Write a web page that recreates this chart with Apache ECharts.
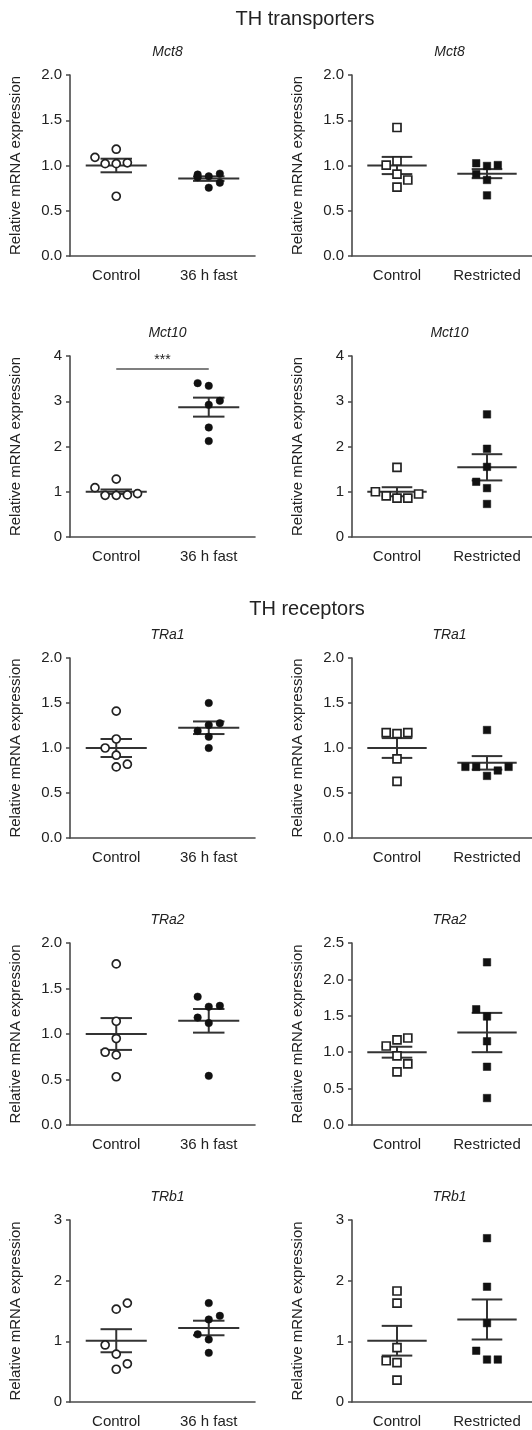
<!DOCTYPE html>
<html>
<head>
<meta charset="utf-8">
<script src="https://cdn.jsdelivr.net/npm/echarts@6/dist/echarts.min.js"></script>
<style>
html,body{margin:0;padding:0;background:#fff;}
#chart{width:532px;height:1430px;}
</style>
</head>
<body>
<div id="chart"></div>
<script>
// ---------- data ----------
const sectionTitles = ['TH transporters', 'TH receptors'];
const geneNames = ['Mct8','Mct8','Mct10','Mct10','TRa1','TRa1','TRa2','TRa2','TRb1','TRb1'];
const groupLabelsFast = ['Control', '36 h fast'];
const groupLabelsRestricted = ['Control', 'Restricted'];
const yMax  = [2, 2, 4, 4, 2, 2, 2, 2.5, 3, 3];
const yStep = [0.5, 0.5, 1, 1, 0.5, 0.5, 0.5, 0.5, 1, 1];
const yDecimals = [1, 1, 0, 0, 1, 1, 1, 1, 0, 0];

const controlValues = [
  [1.09, 1.18, 1.02, 1.02, 1.03, 0.66],
  [1.42, 1.005, 1.05, 0.905, 0.84, 0.76],
  [1.09, 1.28, 0.92, 0.92, 0.93, 0.96],
  [1.00, 0.91, 0.86, 0.86, 0.95, 1.54],
  [1.41, 1.10, 1.00, 0.92, 0.79, 0.82],
  [1.17, 1.16, 1.17, 0.88, 0.63],
  [1.77, 1.14, 0.95, 0.80, 0.77, 0.53],
  [1.085, 1.17, 1.195, 0.95, 0.84, 0.73],
  [1.53, 1.63, 0.94, 0.79, 0.54, 0.63],
  [1.83, 1.63, 0.895, 0.68, 0.65, 0.36]
];
const controlJitter = [
  [-0.23, 0, -0.12, 0, 0.12, 0],
  [0, -0.12, 0, 0, 0.12, 0],
  [-0.23, 0, -0.12, 0, 0.12, 0.23],
  [-0.24, -0.12, 0, 0.12, 0.24, 0],
  [0, 0, -0.12, 0, 0, 0.12],
  [-0.12, 0, 0.12, 0, 0],
  [0, 0, 0, -0.12, 0, 0],
  [-0.12, 0, 0.12, 0, 0.12, 0],
  [0, 0.12, -0.12, 0, 0, 0.12],
  [0, 0, 0, -0.12, 0, 0]
];
const treatedValues = [
  [0.90, 0.88, 0.91, 0.87, 0.81, 0.755],
  [1.025, 0.995, 1.005, 0.905, 0.84, 0.67],
  [3.40, 3.34, 3.01, 2.92, 2.42, 2.12],
  [2.71, 1.95, 1.55, 1.22, 1.08, 0.73],
  [1.50, 1.19, 1.255, 1.275, 1.125, 1.00],
  [1.20, 0.79, 0.79, 0.69, 0.75, 0.79],
  [1.41, 1.30, 1.31, 1.18, 1.12, 0.54],
  [2.235, 1.59, 1.49, 1.15, 0.80, 0.37],
  [1.63, 1.36, 1.42, 1.115, 1.03, 0.81],
  [2.70, 1.90, 1.30, 0.845, 0.70, 0.70]
];
const treatedJitter = [
  [-0.12, 0, 0.12, -0.12, 0.12, 0],
  [-0.12, 0, 0.12, -0.12, 0, 0],
  [-0.12, 0, 0.12, 0, 0, 0],
  [0, 0, 0, -0.12, 0, 0],
  [0, -0.12, 0, 0.12, 0, 0],
  [0, -0.24, -0.12, 0, 0.12, 0.24],
  [-0.12, 0, 0.12, -0.12, 0, 0],
  [0, -0.12, 0, 0, 0, 0],
  [0, 0, 0.12, -0.12, 0, 0],
  [0, 0, 0, -0.12, 0, 0.12]
];
const controlMean = [1.0, 1.0, 1.0, 1.0, 1.0, 1.0, 1.0, 1.0, 1.01, 1.01];
const controlSem  = [0.075, 0.095, 0.05, 0.1, 0.1, 0.11, 0.175, 0.075, 0.19, 0.245];
const treatedMean = [0.855, 0.91, 2.87, 1.54, 1.225, 0.835, 1.145, 1.27, 1.22, 1.36];
const treatedSem  = [0.025, 0.05, 0.21, 0.29, 0.07, 0.075, 0.13, 0.27, 0.12, 0.33];
// significance bracket (panel index, height, label)
const sigPanel = 2, sigLevel = 3.71, sigLabel = '***';

// ---------- layout ----------
const FONT = '"Liberation Sans", Arial, Helvetica, sans-serif';
const rowTop = [75, 356, 658, 943, 1220];
const rowHeight = [181, 181, 180, 182, 182];
const colLeft = [70, 352];
const gridWidth = 185;
const axisColor = '#4a4a4a';
const inkColor = '#222';

const grids = [], xAxes = [], yAxes = [], series = [], titles = [];

titles.push({text: sectionTitles[0], left: 300, top: 4, textAlign: 'center',
  textStyle: {fontFamily: FONT, fontSize: 20, fontWeight: 'normal', color: inkColor}});
titles.push({text: sectionTitles[1], left: 302, top: 594, textAlign: 'center',
  textStyle: {fontFamily: FONT, fontSize: 20, fontWeight: 'normal', color: inkColor}});

function meanSemRender(params, api) {
  const x = api.value(0), m = api.value(1), s = api.value(2);
  const c = api.coord([x, m]);
  const hi = api.coord([x, m + s]);
  const lo = api.coord([x, m - s]);
  const unit = api.size([1, 0])[0];
  const mw = unit * 0.33, sw = unit * 0.17;
  const st = {stroke: '#333', lineWidth: 2};
  return {type: 'group', children: [
    {type: 'line', shape: {x1: c[0] - mw, y1: c[1], x2: c[0] + mw, y2: c[1]}, style: st},
    {type: 'line', shape: {x1: hi[0] - sw, y1: hi[1], x2: hi[0] + sw, y2: hi[1]}, style: st},
    {type: 'line', shape: {x1: lo[0] - sw, y1: lo[1], x2: lo[0] + sw, y2: lo[1]}, style: st},
    {type: 'line', shape: {x1: c[0], y1: hi[1], x2: c[0], y2: lo[1]}, style: st}
  ]};
}

function sigRender(params, api) {
  const a = api.coord([api.value(0), api.value(2)]);
  const b = api.coord([api.value(1), api.value(2)]);
  return {type: 'group', children: [
    {type: 'line', shape: {x1: a[0], y1: a[1], x2: b[0], y2: b[1]}, style: {stroke: '#555', lineWidth: 1.5}},
    {type: 'text', style: {text: sigLabel, x: (a[0] + b[0]) / 2, y: a[1] - 2,
      align: 'center', verticalAlign: 'bottom', fill: inkColor, font: '14px ' + FONT}}
  ]};
}

for (let i = 0; i < 10; i++) {
  const row = Math.floor(i / 2), col = i % 2;
  const left = colLeft[col];
  grids.push({left: left, top: rowTop[row], width: gridWidth, height: rowHeight[row]});
  const labels = col === 0 ? groupLabelsFast : groupLabelsRestricted;
  xAxes.push({
    type: 'category', gridIndex: i, data: labels,
    axisLine: {onZero: false, lineStyle: {color: axisColor, width: 1.6}},
    axisTick: {alignWithLabel: true, length: 5, lineStyle: {color: axisColor, width: 1.5}},
    axisLabel: {color: inkColor, fontFamily: FONT, fontSize: 15, margin: 12},
    splitLine: {show: false}
  });
  xAxes.push({type: 'value', gridIndex: i, min: -0.5, max: 1.5, show: false,
    axisLine: {onZero: false}});
  const dec = yDecimals[i];
  yAxes.push({
    type: 'value', gridIndex: i, position: 'left', min: 0, max: yMax[i], interval: yStep[i],
    name: 'Relative mRNA expression', nameLocation: 'middle', nameGap: 47,
    nameTextStyle: {color: inkColor, fontFamily: FONT, fontSize: 15},
    axisLine: {show: true, onZero: false, lineStyle: {color: axisColor, width: 1.6}},
    axisTick: {show: true, length: 4, lineStyle: {color: axisColor, width: 1.5}},
    axisLabel: {color: inkColor, fontFamily: FONT, fontSize: 15, margin: 8,
      formatter: v => v.toFixed(dec)},
    splitLine: {show: false}
  });
  titles.push({text: geneNames[i], left: left + gridWidth / 2, top: rowTop[row] - 35,
    textAlign: 'center',
    textStyle: {fontFamily: FONT, fontSize: 14, fontStyle: 'italic', fontWeight: 'normal', color: inkColor}});

  const sym = col === 0 ? 'circle' : 'rect';
  const size = col === 0 ? 8 : 8;
  series.push({
    type: 'custom', xAxisIndex: 2 * i + 1, yAxisIndex: i, z: 2,
    renderItem: meanSemRender,
    data: [[0, controlMean[i], controlSem[i]], [1, treatedMean[i], treatedSem[i]]]
  });
  series.push({
    type: 'scatter', xAxisIndex: 2 * i + 1, yAxisIndex: i, z: 3,
    symbol: sym, symbolSize: size,
    itemStyle: {color: '#fff', borderColor: '#222', borderWidth: 1.7, opacity: 1},
    data: controlValues[i].map((v, k) => [0 + controlJitter[i][k], v])
  });
  series.push({
    type: 'scatter', xAxisIndex: 2 * i + 1, yAxisIndex: i, z: 3,
    symbol: sym, symbolSize: col === 0 ? 7.5 : 7.5,
    itemStyle: {color: '#111', borderColor: '#111', borderWidth: 0.5, opacity: 1},
    data: treatedValues[i].map((v, k) => [1 + treatedJitter[i][k], v])
  });
  if (i === sigPanel) {
    series.push({
      type: 'custom', xAxisIndex: 2 * i + 1, yAxisIndex: i, z: 2,
      renderItem: sigRender,
      data: [[0, 1, sigLevel]]
    });
  }
}

const chart = echarts.init(document.getElementById('chart'), null, {renderer: 'canvas'});
chart.setOption({
  animation: false,
  backgroundColor: '#fff',
  title: titles,
  grid: grids,
  xAxis: xAxes,
  yAxis: yAxes,
  series: series
});
</script>
</body>
</html>
